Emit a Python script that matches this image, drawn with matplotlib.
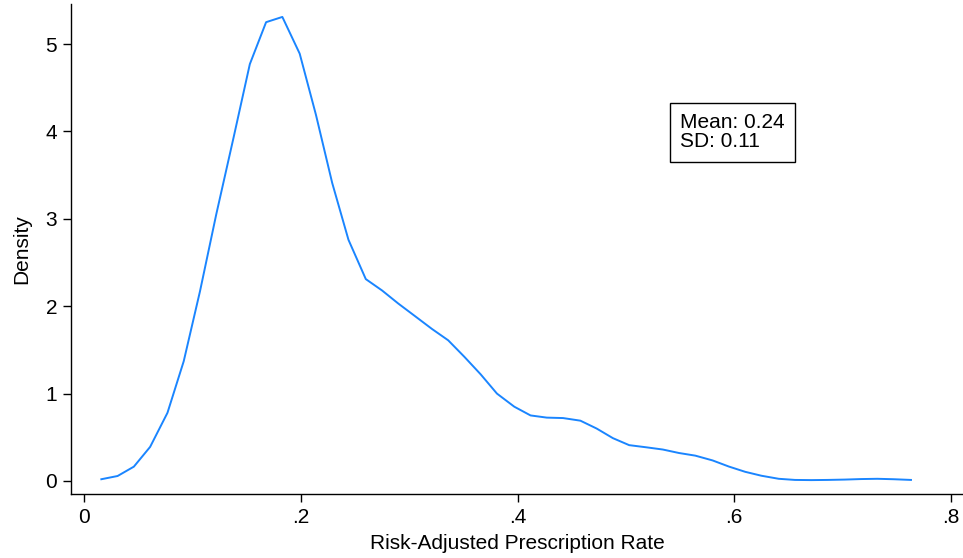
import matplotlib
matplotlib.use("Agg")
import matplotlib.pyplot as plt

# kernel density estimate of the prescription rate (50 evaluation points)
rate = [0.016, 0.031, 0.046, 0.061, 0.077, 0.092, 0.107, 0.122, 0.138, 0.153,
        0.168, 0.183, 0.199, 0.214, 0.229, 0.244, 0.260, 0.275, 0.290, 0.305,
        0.321, 0.336, 0.351, 0.366, 0.381, 0.397, 0.412, 0.427, 0.442, 0.458,
        0.473, 0.488, 0.503, 0.519, 0.534, 0.549, 0.564, 0.580, 0.595, 0.610,
        0.625, 0.641, 0.656, 0.671, 0.686, 0.702, 0.717, 0.732, 0.747, 0.763]
density = [0.02, 0.057, 0.164, 0.39, 0.78, 1.37, 2.17, 3.05, 3.93, 4.77,
           5.25, 5.31, 4.89, 4.19, 3.41, 2.76, 2.31, 2.18, 2.03, 1.89,
           1.74, 1.61, 1.42, 1.22, 1.0, 0.85, 0.75, 0.725, 0.72, 0.69,
           0.60, 0.49, 0.41, 0.385, 0.36, 0.32, 0.29, 0.235, 0.165, 0.105,
           0.06, 0.025, 0.012, 0.01, 0.012, 0.016, 0.022, 0.025, 0.02, 0.012]

xticks = [0, 0.2, 0.4, 0.6, 0.8]
xticklabels = ["0", ".2", ".4", ".6", ".8"]
yticks = [0, 1, 2, 3, 4, 5]

mean_rate = 0.24
sd_rate = 0.11

plt.rcParams["font.family"] = ["Liberation Sans", "DejaVu Sans"]

fig = plt.figure(figsize=(9.63, 5.58), dpi=100)
ax = fig.add_axes([71 / 963, 64 / 558, 1 - 71 / 963, 490 / 558])

ax.plot(rate, density, color="#1a85ff", linewidth=1.4)

ax.set_xlim(-0.012, 0.811)
ax.set_ylim(-0.149, 5.458)
ax.set_xticks(xticks)
ax.set_xticklabels(xticklabels)
ax.set_yticks(yticks)
ax.tick_params(axis="both", direction="out", length=6, width=1, labelsize=15, pad=4)
for side in ["top", "right"]:
    ax.spines[side].set_visible(False)
for side in ["left", "bottom"]:
    ax.spines[side].set_linewidth(1)

ax.set_xlabel("Risk-Adjusted Prescription Rate", fontsize=15, labelpad=5)
ax.set_ylabel("Density", fontsize=15, labelpad=10)

ax.text(0.55, 3.99, "Mean: {:.2f}\nSD: {:.2f}".format(mean_rate, sd_rate),
        fontsize=15, ha="left", va="center", linespacing=1.0,
        bbox=dict(boxstyle="square,pad=0.5", facecolor="white", edgecolor="black", linewidth=1))

fig.savefig("out.png", dpi=100)
